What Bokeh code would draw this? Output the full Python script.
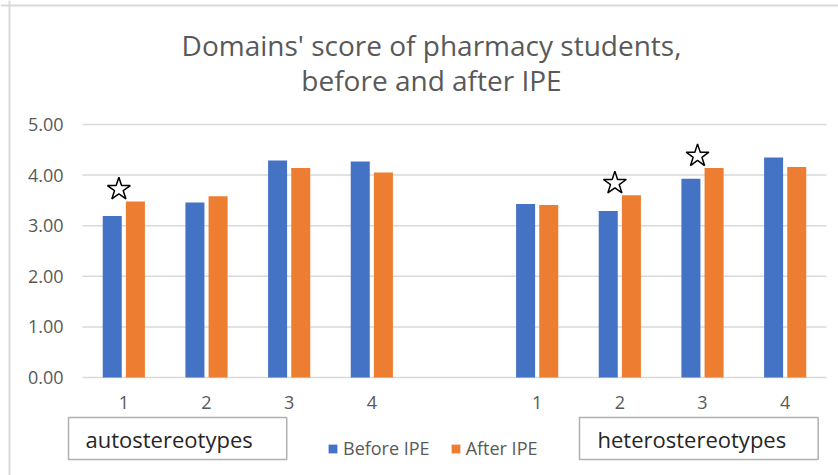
from bokeh.plotting import figure
from bokeh.models import (Range1d, FixedTicker, Label, Legend, LegendItem,
                          ColumnDataSource, PrintfTickFormatter, Span)
from bokeh.transform import dodge
from bokeh.embed import file_html
from bokeh.resources import INLINE

# ---- data -------------------------------------------------------------
domains = ["1", "2", "3", "4"]
groups = ["autostereotypes", "heterostereotypes"]
series = ["Before IPE", "After IPE"]

auto_before = [3.19, 3.46, 4.29, 4.27]
auto_after = [3.48, 3.58, 4.14, 4.05]
hetero_before = [3.43, 3.29, 3.93, 4.35]
hetero_after = [3.41, 3.60, 4.14, 4.16]

# significant difference markers (star)
auto_sig = [True, False, False, False]
hetero_sig = [False, True, True, False]

y_ticks = [0, 1, 2, 3, 4, 5]
title_lines = ["Domains' score of pharmacy students,", "before and after IPE"]

BLUE = "#4472C4"
ORANGE = "#ED7D31"
FONT = "Open Sans"
GRAY = "#595959"
GRID = "#d9d9d9"

# ---- layout geometry (canvas pixels) ----------------------------------
W, H = 838, 475
PL, PR, PT, PB = 82, 826, 124, 377      # plot area edges
n_slots = 2 * len(domains) + 1           # one empty slot between groups
ppx = (PR - PL) / n_slots
ppy = (PB - PT) / max(y_ticks)
x_start = 0.5 - PL / ppx
x_end = n_slots + 0.5 + (W - PR) / ppx
y_start = -(H - PB) / ppy
y_end = max(y_ticks) + PT / ppy


def dx(px):
    return x_start + px / ppx


def dy(py):
    return y_end - py / ppy


# ---- positions ---------------------------------------------------------
auto_x = [i + 1 for i in range(len(domains))]
hetero_x = [i + 2 + len(domains) for i in range(len(domains))]
xs = auto_x + hetero_x
before = auto_before + hetero_before
after = auto_after + hetero_after
sig = auto_sig + hetero_sig
labels = domains + domains

src = ColumnDataSource(dict(x=xs, before=before, after=after))

star_x = [x - 0.06 for x, s in zip(xs, sig) if s]
star_y = [max(b, a) + 0.24 for b, a, s in zip(before, after, sig) if s]

p = figure(width=W, height=H, output_backend="svg", toolbar_location=None,
           x_range=Range1d(x_start, x_end), y_range=Range1d(y_start, y_end),
           min_border=0)
p.outline_line_color = None
p.background_fill_color = "white"
p.border_fill_color = "white"
p.xgrid.grid_line_color = None
p.ygrid.grid_line_color = None

# horizontal gridlines over the plot area only
p.segment(x0=[0.5] * len(y_ticks), x1=[n_slots + 0.5] * len(y_ticks),
          y0=y_ticks, y1=y_ticks, line_color=GRID, line_width=1.5)

r1 = p.vbar(x=dodge("x", -0.14), top="before", width=0.23, source=src,
            fill_color=BLUE, line_color=None)
r2 = p.vbar(x=dodge("x", 0.14), top="after", width=0.23, source=src,
            fill_color=ORANGE, line_color=None)

p.scatter(x=star_x, y=star_y, marker="star", size=24, fill_color="white",
          line_color="black", line_width=1.5)

# chart border (left and top edges visible in the reference)
p.add_layout(Span(location=dx(9), dimension="height", line_color=GRID, line_width=2))
p.add_layout(Span(location=dy(5), dimension="width", line_color=GRID, line_width=2))

# axes (drawn at fixed locations inside the canvas)
p.xaxis.fixed_location = 0
p.xaxis.ticker = FixedTicker(ticks=xs)
p.xaxis.major_label_overrides = {x: l for x, l in zip(xs, labels)}
p.xaxis.axis_line_color = None
p.xaxis.major_tick_line_color = None
p.xaxis.minor_tick_line_color = None
p.xaxis.major_tick_out = 0
p.xaxis.major_tick_in = 0
p.xaxis.major_label_standoff = 18
p.xaxis.major_label_text_font = FONT
p.xaxis.major_label_text_font_size = "18px"
p.xaxis.major_label_text_color = GRAY

p.yaxis.fixed_location = 0.5
p.yaxis.ticker = FixedTicker(ticks=y_ticks)
p.yaxis.formatter = PrintfTickFormatter(format="%.2f")
p.yaxis.axis_line_color = None
p.yaxis.major_tick_line_color = None
p.yaxis.minor_tick_line_color = None
p.yaxis.major_tick_out = 0
p.yaxis.major_tick_in = 0
p.yaxis.major_label_standoff = 19
p.yaxis.major_label_text_font = FONT
p.yaxis.major_label_text_font_size = "18px"
p.yaxis.major_label_text_color = GRAY

# title (two lines)
for txt, yy in zip(title_lines, [44, 79]):
    p.add_layout(Label(x=dx(431), y=dy(yy), text=txt, text_align="center",
                       text_baseline="middle", text_font=FONT,
                       text_font_size="28px", text_color=GRAY))

# group name boxes
for txt, bx, pl, pr in zip(groups, [68, 579], [17, 18], [34, 32]):
    p.add_layout(Label(x=dx(bx), y=dy(438), text=txt, text_align="left",
                       text_baseline="middle", text_font=FONT,
                       text_font_size="22px", text_color="#262626",
                       border_line_color="#b0b0b0", border_line_width=1.5,
                       background_fill_color="white",
                       padding=dict(left=pl, right=pr, top=6, bottom=6)))

legend = Legend(items=[LegendItem(label=series[0], renderers=[r1]),
                       LegendItem(label=series[1], renderers=[r2])],
                orientation="horizontal", location=(327, 15),
                border_line_color=None, background_fill_alpha=0,
                padding=0, margin=0, spacing=20, label_standoff=5,
                glyph_width=11, glyph_height=11,
                label_text_font=FONT, label_text_font_size="18px",
                label_text_color=GRAY)
p.add_layout(legend)

open("out.html", "w").write(file_html(p, INLINE))
